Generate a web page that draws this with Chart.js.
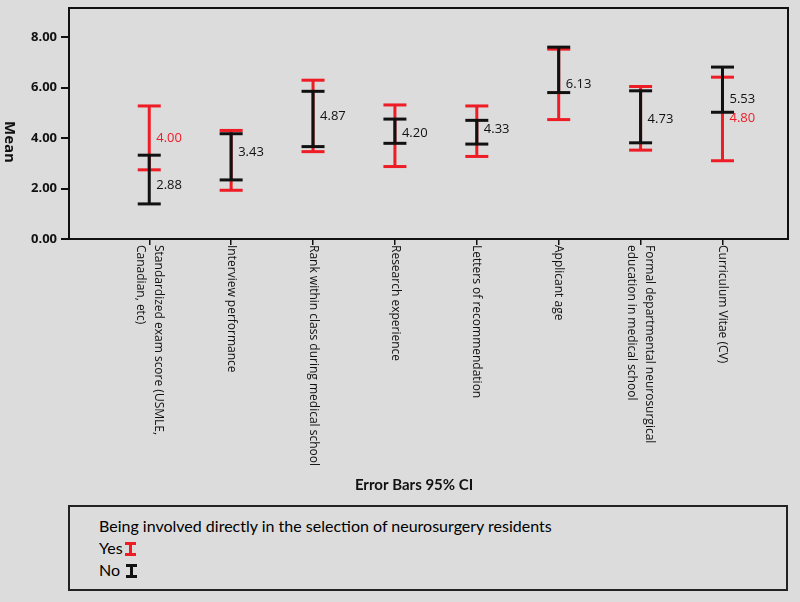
<!DOCTYPE html>
<html>
<head>
<meta charset="utf-8">
<script src="https://cdn.jsdelivr.net/npm/chart.js@4.4.1/dist/chart.umd.min.js"></script>
<style>
  body { margin: 0; background: #dcdcdc; }
  #wrap { position: relative; width: 800px; height: 602px; overflow: hidden; }
  #chart { position: absolute; left: 0; top: 0; }
  #legendBox {
    position: absolute; left: 68px; top: 505px; width: 716px; height: 82px;
    border: 2px solid #222; box-sizing: content-box;
    font-family: Lato, "Open Sans", sans-serif; font-size: 16px; color: #000;
    padding: 0; line-height: 22px;
  }
  #legendBox .inner { padding: 8px 0 0 29px; }
  #legendBox svg { vertical-align: -2px; margin-left: 1px; }
</style>
</head>
<body>
<div id="wrap">
  <canvas id="chart" width="800" height="500"></canvas>
  <div id="legendBox">
    <div class="inner">
      <div>Being involved directly in the selection of neurosurgery residents</div>
      <div>Yes<svg width="13" height="14"><path d="M1 1.5H12M1 12.5H12M6.5 1.5V12.5" stroke="#ee1c25" stroke-width="3" fill="none"/></svg></div>
      <div>No <svg width="13" height="14"><path d="M1 1.5H12M1 12.5H12M6.5 1.5V12.5" stroke="#111" stroke-width="3" fill="none"/></svg></div>
    </div>
  </div>
</div>
<script>
// categories (multi-line labels as arrays)
const categories = [
  ['Standardized exam score (USMLE,', 'Canadian, etc)'],
  ['Interview performance'],
  ['Rank within class during medical school'],
  ['Research experience'],
  ['Letters of recommendation'],
  ['Applicant age'],
  ['Formal departmental neurosurgical', 'education in medical school'],
  ['Curriculum Vitae (CV)']
];

// 95% CI bounds
const yesLow  = [2.74, 1.93, 3.46, 2.87, 3.27, 4.73, 3.52, 3.10];
const yesHigh = [5.27, 4.30, 6.29, 5.31, 5.27, 7.52, 6.04, 6.41];
const noLow   = [1.39, 2.34, 3.66, 3.79, 3.76, 5.80, 3.81, 5.02];
const noHigh  = [3.32, 4.17, 5.85, 4.75, 4.70, 7.60, 5.87, 6.81];

// mean labels printed next to the bars
const yesMeanLabels = [4.00, null, null, null, null, null, null, 4.80];
const noMeanLabels  = [2.88, 3.43, 4.87, 4.20, 4.33, 6.13, 4.73, 5.53];

const yTicks = [0, 2, 4, 6, 8];

const RED = '#ee1c25';
const BLACK = '#111';

function errorBarPoints(low, high) {
  let pts = [];
  low.forEach((lo, i) => {
    pts.push({x: i, y: lo});
    pts.push({x: i, y: high[i]});
    pts.push({x: i + 0.5, y: null}); // break the line between categories
  });
  return pts;
}

function barDataset(label, low, high, color, order) {
  return {
    label: label,
    data: errorBarPoints(low, high),
    borderColor: color,
    borderWidth: 3,
    pointStyle: 'line',
    pointRadius: 11.5,
    pointHoverRadius: 11.5,
    pointBorderWidth: 3,
    pointBorderColor: color,
    spanGaps: false,
    tension: 0,
    order: order
  };
}

// frame on top and right of the plot
const boxPlugin = {
  id: 'box',
  afterDraw(chart) {
    const {ctx, chartArea: a} = chart;
    ctx.save();
    ctx.strokeStyle = BLACK;
    ctx.lineWidth = 2;
    ctx.beginPath();
    ctx.moveTo(a.left - 1, a.top);
    ctx.lineTo(a.right, a.top);
    ctx.lineTo(a.right, a.bottom + 1);
    ctx.stroke();
    ctx.restore();
  }
};

// mean values beside each error bar
const meanLabelPlugin = {
  id: 'meanLabels',
  afterDatasetsDraw(chart) {
    const {ctx, scales: {x, y}} = chart;
    ctx.save();
    ctx.font = '13px "Open Sans"';
    ctx.textAlign = 'left';
    ctx.textBaseline = 'middle';
    categories.forEach((c, i) => {
      const caps = [yesLow[i], yesHigh[i], noLow[i], noHigh[i]].map(v => y.getPixelForValue(v));
      [[noMeanLabels[i], BLACK], [yesMeanLabels[i], RED]].forEach(([val, col]) => {
        if (val == null) return;
        let py = y.getPixelForValue(val);
        caps.forEach(cp => { if (Math.abs(cp - py) < 5) py = cp + 15; });
        ctx.fillStyle = col;
        ctx.fillText(val.toFixed(2), x.getPixelForValue(i) + 7, py);
      });
    });
    ctx.restore();
  }
};

// rotated category labels, axis titles
const textPlugin = {
  id: 'texts',
  afterDraw(chart) {
    const {ctx, chartArea: a, scales: {x}} = chart;
    ctx.save();
    ctx.fillStyle = BLACK;
    ctx.font = '12px "Open Sans"';
    ctx.textAlign = 'left';
    ctx.textBaseline = 'middle';
    const lineH = 18.5;
    categories.forEach((lines, i) => {
      ctx.save();
      ctx.translate(x.getPixelForValue(i), a.bottom + 6);
      ctx.rotate(Math.PI / 2);
      lines.forEach((ln, j) => {
        ctx.fillText(ln, 0, -((lines.length - 1) / 2 - j) * lineH);
      });
      ctx.restore();
    });

    ctx.save();
    ctx.font = 'bold 15px "Open Sans"';
    ctx.textAlign = 'center';
    ctx.translate(9, 142);
    ctx.rotate(Math.PI / 2);
    ctx.fillText('Mean', 0, 0);
    ctx.restore();

    ctx.font = 'bold 15px Lato';
    ctx.textAlign = 'center';
    ctx.fillText('Error Bars 95% CI', 414, 485);
    ctx.restore();
  }
};

new Chart(document.getElementById('chart'), {
  type: 'line',
  data: {
    datasets: [
      barDataset('Yes', yesLow, yesHigh, RED, 1),
      barDataset('No', noLow, noHigh, BLACK, 0)
    ]
  },
  options: {
    responsive: false,
    animation: false,
    layout: { autoPadding: false, padding: { top: 8, right: 12, left: 0, bottom: 0 } },
    plugins: {
      legend: { display: false },
      tooltip: { enabled: false }
    },
    scales: {
      x: {
        type: 'linear',
        min: -0.98,
        max: 7.8,
        afterBuildTicks: s => { s.ticks = categories.map((c, i) => ({value: i})); },
        afterFit: s => { s.height = 261; s.paddingLeft = 0; s.paddingRight = 0; },
        ticks: { display: false },
        grid: { drawOnChartArea: false, drawTicks: true, tickLength: 6, color: BLACK, lineWidth: 1.5 },
        border: { color: BLACK, width: 2 }
      },
      y: {
        min: 0,
        max: 9.15,
        afterBuildTicks: s => { s.ticks = yTicks.map(v => ({value: v})); },
        afterFit: s => { s.width = 69; s.paddingTop = 0; s.paddingBottom = 0; },
        ticks: {
          callback: v => v.toFixed(2),
          color: BLACK,
          padding: 4,
          font: { family: 'Open Sans', size: 13, weight: 'bold' }
        },
        grid: { drawOnChartArea: false, drawTicks: true, tickLength: 8, color: BLACK, lineWidth: 2 },
        border: { color: BLACK, width: 2 }
      }
    }
  },
  plugins: [boxPlugin, meanLabelPlugin, textPlugin]
});
</script>
</body>
</html>
